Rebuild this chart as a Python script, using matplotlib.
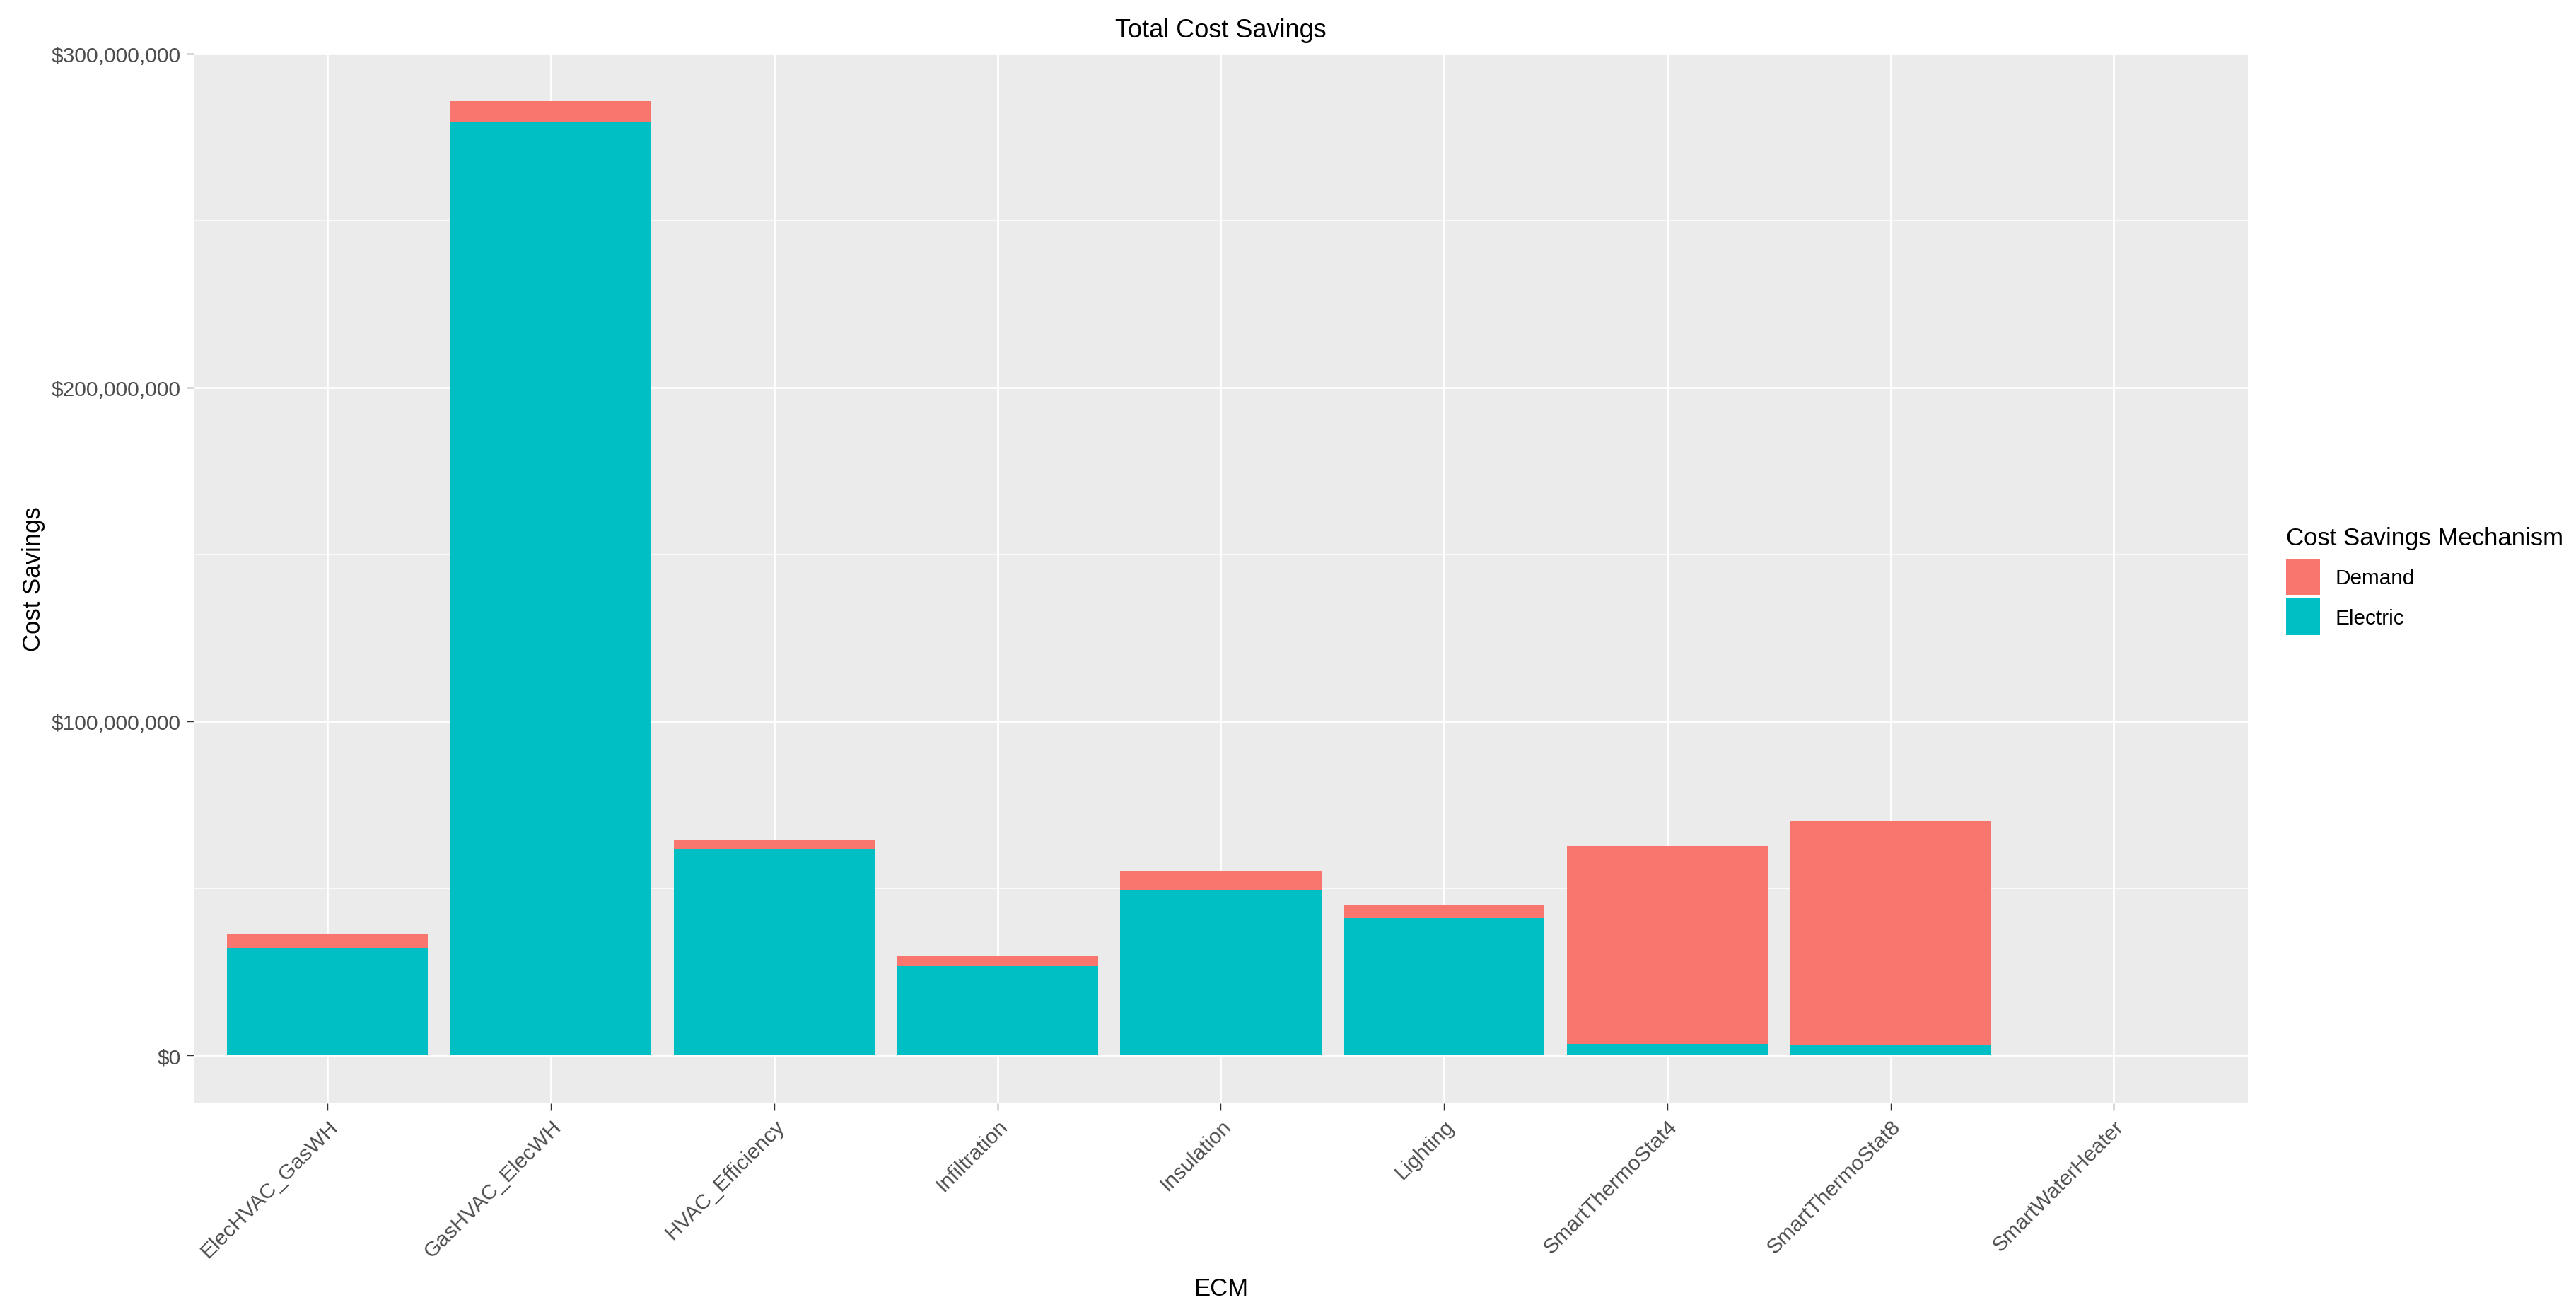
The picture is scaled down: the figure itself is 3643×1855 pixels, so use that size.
import numpy as np
import matplotlib
matplotlib.use('Agg')
import matplotlib.pyplot as plt
from matplotlib.patches import Patch
from matplotlib.ticker import FuncFormatter, MultipleLocator

plt.rcParams['font.family'] = ['Liberation Sans', 'DejaVu Sans']

# ECM categories and savings (millions of dollars)
ecm = ['ElecHVAC_GasWH', 'GasHVAC_ElecWH', 'HVAC_Efficiency', 'Infiltration',
       'Insulation', 'Lighting', 'SmartThermoStat4', 'SmartThermoStat8',
       'SmartWaterHeater']
electric_m = [32.3, 279.8, 61.9, 26.7, 49.7, 41.1, 3.5, 3.0, 0.0]
demand_m = [4.1, 6.0, 2.5, 3.0, 5.5, 4.1, 59.3, 67.3, 0.0]

mechanisms = ['Demand', 'Electric']
colors = {'Demand': '#F8766D', 'Electric': '#00BFC4'}

electric = np.array(electric_m) * 1e6
demand = np.array(demand_m) * 1e6
x = np.arange(1, len(ecm) + 1)

fig = plt.figure(figsize=(18.215, 9.28), dpi=200)
ax = fig.add_axes([0.0752, 0.159, 0.7974, 0.7995])
ax.set_facecolor('#EBEBEB')

# stacked bars: Electric at the bottom, Demand on top
ax.bar(x, electric, width=0.9, color=colors['Electric'], zorder=3, linewidth=0)
ax.bar(x, demand, width=0.9, bottom=electric, color=colors['Demand'], zorder=3, linewidth=0)

# ggplot-like scale expansion
total_max = (electric + demand).max()
ax.set_ylim(-0.05 * total_max, 1.05 * total_max)
ax.set_xlim(0.4, len(ecm) + 0.6)

ax.yaxis.set_major_locator(MultipleLocator(1e8))
ax.yaxis.set_minor_locator(MultipleLocator(5e7))
ax.yaxis.set_major_formatter(FuncFormatter(lambda v, p: f'${v:,.0f}'))
ax.set_xticks(x)
ax.set_xticklabels(ecm, rotation=45, ha='right', va='top', rotation_mode='anchor')

ax.grid(True, which='major', color='white', linewidth=1.0, zorder=0)
ax.grid(True, which='minor', axis='y', color='white', linewidth=0.55, zorder=0)
ax.set_axisbelow(True)
for s in ax.spines.values():
    s.set_visible(False)

ax.tick_params(axis='both', which='major', length=3.6, width=0.5, color='#333333',
               labelcolor='#4D4D4D', labelsize=10.8, pad=2.9)
ax.tick_params(axis='y', which='minor', length=0)

ax.set_title('Total Cost Savings', fontsize=13, y=1.0164, pad=0)
ax.set_xlabel('ECM', fontsize=12.5)
ax.set_ylabel('Cost Savings', fontsize=12.5)
ax.xaxis.set_label_coords(0.5, -0.176)
ax.xaxis.label.set_va('center')
ax.yaxis.set_label_coords(-0.0781, 0.5)
ax.yaxis.label.set_va('center')

handles = [Patch(facecolor=colors[m], edgecolor='none', label=m) for m in mechanisms]
leg = fig.legend(handles=handles, title='Cost Savings Mechanism', loc='upper left',
                 bbox_to_anchor=(0.8875, 0.5985), frameon=False, fontsize=10.7,
                 title_fontsize=12.5, handlelength=1.62, handleheight=2.3,
                 labelspacing=0.17, handletextpad=0.7, borderpad=0, borderaxespad=0,
                 alignment='left')
leg._legend_box.sep = 4.5  # gap between legend title and keys (points)

fig.savefig('out.png', dpi=200)
